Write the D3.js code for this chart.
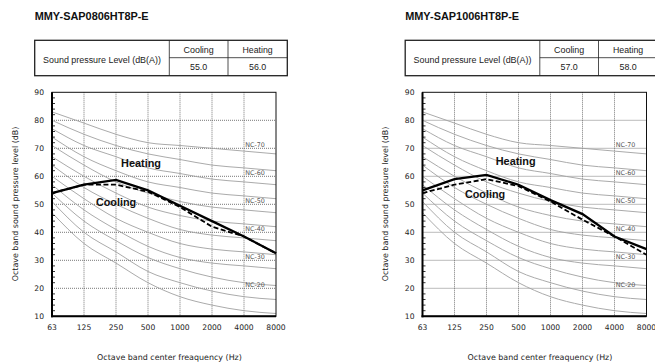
<!DOCTYPE html>
<html>
<head>
<meta charset="utf-8">
<script src="https://cdn.jsdelivr.net/npm/d3@7"></script>
<style>
  body { margin: 0; background: #fff; }
  svg { display: block; }
</style>
</head>
<body>
<svg id="chart" width="655" height="362"></svg>
<script>
// Octave bands (Hz)
const freqs = ["63", "125", "250", "500", "1000", "2000", "4000", "8000"];
const yTicks = [10, 20, 30, 40, 50, 60, 70, 80, 90];

// NC reference curves, one row per NC level
const ncLevels = [15, 20, 25, 30, 35, 40, 45, 50, 55, 60, 65, 70];
const ncCurves = [
  [47, 36, 29, 22, 17, 14, 12, 11],
  [51, 40, 33, 26, 22, 19, 17, 16],
  [54, 44, 37, 31, 27, 24, 22, 21],
  [57, 48, 41, 35, 31, 29, 28, 27],
  [60, 52, 45, 40, 36, 34, 33, 32],
  [64, 56, 50, 45, 41, 39, 38, 37],
  [67, 60, 54, 49, 46, 44, 43, 42],
  [71, 64, 58, 54, 51, 49, 48, 47],
  [74, 67, 62, 58, 56, 54, 53, 52],
  [77, 71, 67, 63, 61, 59, 58, 57],
  [80, 75, 71, 68, 66, 64, 63, 62],
  [83, 79, 75, 72, 71, 70, 69, 68]
];
const ncLabelled = [20, 30, 40, 50, 60, 70];

// MMY-SAP0806HT8P-E
const heating0806 = [54, 57, 58.7, 55, 49.5, 44, 38.5, 32.5];
const cooling0806 = [54, 57, 57, 54.5, 49, 42, 38.5, 32.5];
// MMY-SAP1006HT8P-E
const heating1006 = [55, 59, 60.5, 57, 51.5, 46.5, 38.5, 34];
const cooling1006 = [54, 57, 59, 56.5, 51, 44.5, 38.5, 32];

const models = ["MMY-SAP0806HT8P-E", "MMY-SAP1006HT8P-E"];
const tableHead = ["Cooling", "Heating"];
const tableValues = [["55.0", "56.0"], ["57.0", "58.0"]];

const panels = [
  { model: models[0], values: tableValues[0], heating: heating0806, cooling: cooling0806, ox: 0,
    heatLbl: [141, 163], coolLbl: [116, 202] },
  { model: models[1], values: tableValues[1], heating: heating1006, cooling: cooling1006, ox: 370.5,
    heatLbl: [515.7 - 370.5, 161], coolLbl: [485 - 370.5, 194.5] }
];

const svg = d3.select("#chart");
const plotW = 224, plotH = 224;
const sans = "'Liberation Sans', Arial, sans-serif";
const tick = "'DejaVu Sans', Verdana, sans-serif";

const x = d3.scalePoint().domain(freqs).range([0, plotW]).padding(0);
const y = d3.scaleLinear().domain([10, 90]).range([plotH, 0]);

// scale a text's font so its rendered width matches the reference
function fit(sel, width) {
  const node = sel.node();
  const w = node.getComputedTextLength();
  const size = +sel.attr("font-size");
  if (w > 0) sel.attr("font-size", (size * width) / w);
  return sel;
}

panels.forEach((p) => {
  const root = svg.append("g").attr("transform", `translate(${p.ox},0)`);

  // Title
  fit(root.append("text")
    .attr("x", 34.7).attr("y", 20)
    .attr("font-family", sans).attr("font-size", 9.5).attr("font-weight", "bold")
    .attr("fill", "#111")
    .text(p.model), 114);

  // Table
  const tx = 34.7, ty = 40.3, tw = 252.6, th = 35.4;
  const c1 = 169.3, c2 = 228, rMid = 57.7;
  const tbl = root.append("g");
  tbl.append("line").attr("x1", c1).attr("x2", tx + tw).attr("y1", rMid).attr("y2", rMid)
    .attr("stroke", "#222").attr("stroke-width", 0.8);
  [c1, c2].forEach((cx) => {
    tbl.append("line").attr("x1", cx).attr("x2", cx).attr("y1", ty).attr("y2", ty + th)
      .attr("stroke", "#222").attr("stroke-width", 0.8);
  });
  tbl.append("rect").attr("x", tx).attr("y", ty).attr("width", tw).attr("height", th)
    .attr("fill", "none").attr("stroke", "#222").attr("stroke-width", 1.3);
  fit(tbl.append("text")
    .attr("x", (tx + c1) / 2).attr("y", 63)
    .attr("text-anchor", "middle").attr("font-family", sans).attr("font-size", 8.5).attr("fill", "#222")
    .text("Sound pressure Level (dB(A))"), 118);
  const colCenters = [(c1 + c2) / 2, (c2 + tx + tw) / 2];
  tableHead.forEach((h, i) => {
    fit(tbl.append("text")
      .attr("x", colCenters[i]).attr("y", 53)
      .attr("text-anchor", "middle").attr("font-family", sans).attr("font-size", 8.5).attr("fill", "#222")
      .text(h), 30.3);
    fit(tbl.append("text")
      .attr("x", colCenters[i]).attr("y", 70)
      .attr("text-anchor", "middle").attr("font-family", sans).attr("font-size", 8.5).attr("fill", "#222")
      .text(p.values[i]), 17.3);
  });

  // Plot
  const g = root.append("g").attr("transform", "translate(52,92.3)");

  // Grid
  g.append("g").selectAll("line")
    .data(freqs.slice(1, -1))
    .join("line")
    .attr("x1", (d) => x(d)).attr("x2", (d) => x(d))
    .attr("y1", 0).attr("y2", plotH)
    .attr("stroke", "#555").attr("stroke-width", 0.8).attr("stroke-dasharray", "1,1");
  g.append("g").selectAll("line")
    .data(yTicks.slice(1, -1))
    .join("line")
    .attr("x1", 0).attr("x2", plotW)
    .attr("y1", (d) => y(d)).attr("y2", (d) => y(d))
    .attr("stroke", "#555").attr("stroke-width", 0.8).attr("stroke-dasharray", "1,1");

  // NC curves
  const ncLine = d3.line()
    .curve(d3.curveMonotoneX)
    .x((d, i) => x(freqs[i]))
    .y((d) => y(d));
  g.append("g").selectAll("path")
    .data(ncCurves)
    .join("path")
    .attr("d", ncLine)
    .attr("fill", "none")
    .attr("stroke", "#a0a0a0")
    .attr("stroke-width", 0.9);

  // NC labels
  g.append("g").selectAll("text")
    .data(ncLabelled)
    .join("text")
    .attr("x", 203).attr("y", (d) => y(d) - 1)
    .attr("text-anchor", "middle")
    .attr("font-family", tick).attr("font-size", 6.4).attr("fill", "#555")
    .text((d) => `NC-${d}`);

  // Frame
  g.append("rect").attr("width", plotW).attr("height", plotH)
    .attr("fill", "none").attr("stroke", "#111").attr("stroke-width", 1);
  g.append("line").attr("x1", 0).attr("x2", 0).attr("y1", 0).attr("y2", plotH + 1)
    .attr("stroke", "#000").attr("stroke-width", 2);
  g.append("line").attr("x1", -1).attr("x2", plotW).attr("y1", plotH).attr("y2", plotH)
    .attr("stroke", "#000").attr("stroke-width", 2);

  // Minor ticks on the left axis, pointing inward
  g.append("g").selectAll("line")
    .data(d3.range(12, 90, 2).filter((v) => v % 10 !== 0))
    .join("line")
    .attr("x1", 0).attr("x2", 3)
    .attr("y1", (d) => y(d)).attr("y2", (d) => y(d))
    .attr("stroke", "#000").attr("stroke-width", 0.8);

  // Y tick labels
  g.append("g").selectAll("text")
    .data(yTicks)
    .join("text")
    .attr("x", -8).attr("y", (d) => y(d) + 2.7)
    .attr("text-anchor", "end")
    .attr("font-family", tick).attr("font-size", 7.6).attr("fill", "#222")
    .text((d) => d);

  // X tick labels
  g.append("g").selectAll("text")
    .data(freqs)
    .join("text")
    .attr("x", (d) => x(d)).attr("y", plotH + 14)
    .attr("text-anchor", "middle")
    .attr("font-family", tick).attr("font-size", 7.6).attr("fill", "#222")
    .text((d) => d);

  // Measured curves
  const dataLine = d3.line()
    .x((d, i) => x(freqs[i]))
    .y((d) => y(d));
  g.append("path")
    .attr("d", dataLine(p.cooling))
    .attr("fill", "none").attr("stroke", "#000").attr("stroke-width", 1.8)
    .attr("stroke-dasharray", "5,2.5");
  g.append("path")
    .attr("d", dataLine(p.heating))
    .attr("fill", "none").attr("stroke", "#000").attr("stroke-width", 2.3);

  // Series labels
  fit(root.append("text")
    .attr("x", p.heatLbl[0]).attr("y", p.heatLbl[1] + 3.7)
    .attr("text-anchor", "middle")
    .attr("font-family", sans).attr("font-size", 10.5).attr("font-weight", "bold").attr("fill", "#111")
    .text("Heating"), 40);
  fit(root.append("text")
    .attr("x", p.coolLbl[0]).attr("y", p.coolLbl[1] + 3.7)
    .attr("text-anchor", "middle")
    .attr("font-family", sans).attr("font-size", 10.5).attr("font-weight", "bold").attr("fill", "#111")
    .text("Cooling"), 40.3);

  // Axis titles
  fit(root.append("text")
    .attr("transform", "translate(17.5,204) rotate(-90)")
    .attr("text-anchor", "middle")
    .attr("font-family", tick).attr("font-size", 8).attr("fill", "#222")
    .text("Octave band sound pressure level (dB)"), 155);
  fit(root.append("text")
    .attr("x", 169.5).attr("y", 360)
    .attr("text-anchor", "middle")
    .attr("font-family", tick).attr("font-size", 8).attr("fill", "#222")
    .text("Octave band center freaquency (Hz)"), 145);
});
</script>
</body>
</html>
